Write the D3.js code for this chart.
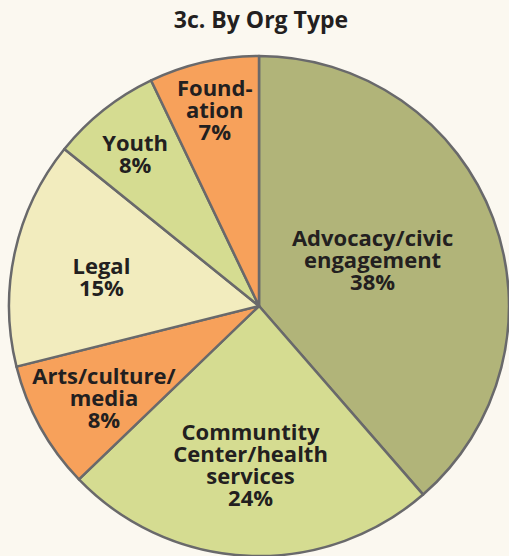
<!DOCTYPE html>
<html>
<head>
<meta charset="utf-8">
<script src="https://cdn.jsdelivr.net/npm/d3@7"></script>
<style>
  html, body { margin: 0; padding: 0; background: #fbf8f0; }
  svg { display: block; }
</style>
</head>
<body>
<div id="chart"></div>
<script>
const w = 509,
      h = 556;

// data, clockwise from 12 o'clock
var categories = [
    ["Advocacy/civic", "engagement"],
    ["Communtity", "Center/health", "services"],
    ["Arts/culture/", "media"],
    ["Legal"],
    ["Youth"],
    ["Found-", "ation"]
];
// slice sizes
var shares = [38.6, 24.2, 8.3, 14.7, 7.1, 7.1];
// printed percentages
var pctLabels = ["38%", "24%", "8%", "15%", "8%", "7%"];
var colors = ["#b1b479", "#d5dc91", "#f7a15b", "#f2ecbe", "#d5dc91", "#f7a15b"];

// label placement: distance from centre (px) and turn from slice middle (deg)
var labelRadius = [122, 160, 181, 160, 195, 200];
var labelTurn = [-0.9, 0.5, -2.1, -2.4, -1.1, 0];

var cx = 259, cy = 306, radius = 250;
var lineH = 22;

var svg = d3.select("#chart")
    .append("svg")
    .attr("width", w)
    .attr("height", h);

svg.append("text")
    .attr("x", 261)
    .attr("y", 28)
    .attr("text-anchor", "middle")
    .style("font-family", "'Open Sans', sans-serif")
    .style("font-weight", "bold")
    .style("font-size", "23px")
    .attr("fill", "#231f20")
    .text("3c. By Org Type");

var data = shares.map(function(v, i) {
    return {lines: categories[i], value: v, pct: pctLabels[i], color: colors[i],
            lr: labelRadius[i], turn: labelTurn[i] * Math.PI / 180};
});

var pie = d3.pie()
    .sort(null)
    .value(function(d) { return d.value; });

var arc = d3.arc()
    .innerRadius(0)
    .outerRadius(radius);

var g = svg.append("g")
    .attr("transform", "translate(" + cx + "," + cy + ")");

var arcs = pie(data);

g.selectAll("path")
    .data(arcs)
    .enter()
    .append("path")
    .attr("d", arc)
    .attr("fill", function(d) { return d.data.color; })
    .attr("stroke", "#69696b")
    .attr("stroke-width", 2.5)
    .attr("stroke-linejoin", "round");

var labels = g.selectAll(".lbl")
    .data(arcs)
    .enter()
    .append("text")
    .attr("class", "lbl")
    .attr("text-anchor", "middle")
    .style("font-family", "'Open Sans', sans-serif")
    .style("font-weight", "bold")
    .style("font-size", "22px")
    .attr("fill", "#231f20")
    .attr("transform", function(d) {
        var a = (d.startAngle + d.endAngle) / 2 + d.data.turn;
        var x = d.data.lr * Math.sin(a),
            y = -d.data.lr * Math.cos(a);
        return "translate(" + x + "," + y + ")";
    });

labels.each(function(d) {
    var lines = d.data.lines.concat([d.data.pct]);
    var top = -(lines.length - 1) * lineH / 2 + 7;
    var t = d3.select(this);
    lines.forEach(function(s, k) {
        t.append("tspan")
            .attr("x", 0)
            .attr("y", top + k * lineH)
            .text(s);
    });
});
</script>
</body>
</html>
